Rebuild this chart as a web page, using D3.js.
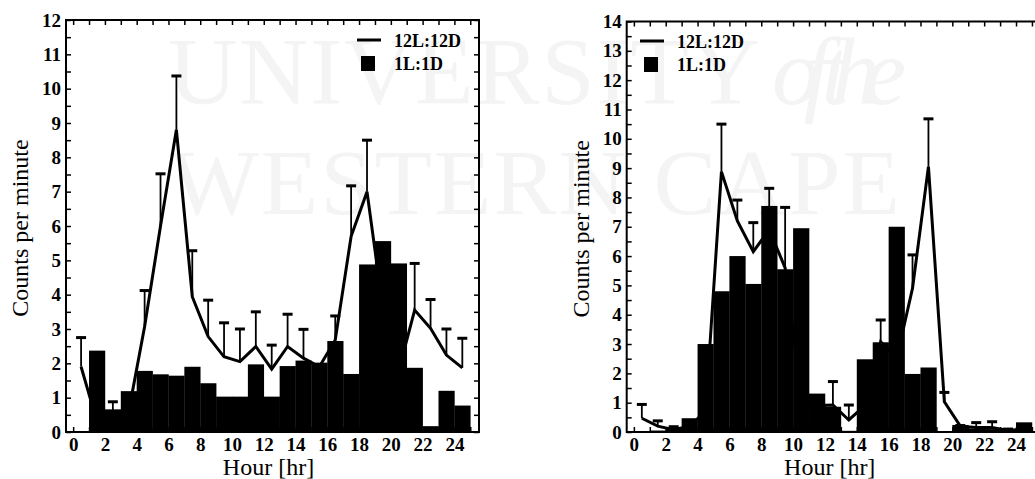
<!DOCTYPE html>
<html>
<head>
<meta charset="utf-8">
<script src="https://cdn.jsdelivr.net/npm/d3@7"></script>
<style>
  body { margin: 0; background: #fff; }
  svg { display: block; }
</style>
</head>
<body>
<div id="chart"></div>
<script>
// hours for the bars (each bar spans h..h+1) and for the line points (at h+0.5)
var barHours = [1, 2, 3, 4, 5, 6, 7, 8, 9, 10, 11, 12, 13, 14, 15, 16, 17, 18, 19, 20, 21, 22, 23, 24];
var lineHours = [0, 1, 2, 3, 4, 5, 6, 7, 8, 9, 10, 11, 12, 13, 14, 15, 16, 17, 18, 19, 20, 21, 22, 23, 24];
var xTickLabels = [0, 2, 4, 6, 8, 10, 12, 14, 16, 18, 20, 22, 24];

// left panel
var leftBars = [2.37, 0.66, 1.19, 1.78, 1.68, 1.64, 1.90, 1.42, 1.03, 1.03, 1.97, 1.03,
  1.92, 2.08, 2.02, 2.65, 1.69, 4.88, 5.56, 4.91, 1.87, 0.17, 1.20, 0.77];
var leftLine = [1.9, 0.3, 0.6, 0.6, 3.07, 6.0, 8.8, 3.94, 2.78, 2.19, 2.05, 2.49, 1.83,
  2.49, 2.15, 1.9, 2.68, 5.7, 7.0, 3.6, 1.8, 3.55, 3.02, 2.24, 1.87];
var leftErr = [2.75, 0.5, 0.88, 0.9, 4.12, 7.52, 10.37, 5.28, 3.84, 3.18, 3.0, 3.5, 2.53,
  3.43, 2.99, 1.95, 3.38, 7.17, 8.5, 4.5, 2.6, 4.91, 3.86, 3.0, 2.73];
var leftYTicks = [0, 1, 2, 3, 4, 5, 6, 7, 8, 9, 10, 11, 12];

// right panel
var rightBars = [0.05, 0.15, 0.47, 3.0, 4.8, 6.0, 5.05, 7.71, 5.55, 6.95, 1.31, 0.86,
  0.04, 2.48, 3.06, 7.0, 1.98, 2.2, 0, 0.24, 0.12, 0.1, 0.09, 0.33];
var rightLine = [0.47, 0.2, 0.08, 0.2, 0.7, 8.88, 7.2, 6.15, 6.9, 5.6, 1.2, 0.9, 0.92,
  0.41, 0.9, 3.08, 2.5, 4.9, 9.05, 1.03, 0.2, 0.15, 0.15, 0.05, 0.1];
var rightErr = [0.94, 0.38, 0.18, 0.3, 1.0, 10.5, 7.91, 7.14, 8.31, 7.66, 1.5, 1.1, 1.72,
  0.92, 1.2, 3.82, 3.0, 6.04, 10.68, 1.35, 0.22, 0.32, 0.35, 0.1, 0.2];
var rightYTicks = [0, 1, 2, 3, 4, 5, 6, 7, 8, 9, 10, 11, 12, 13, 14];

var seriesNames = ["12L:12D", "1L:1D"];

var svgWidth = 1035;
var svgHeight = 479;
var serif = "'Liberation Serif', 'DejaVu Serif', serif";

var svg = d3.select("#chart")
  .append("svg")
  .attr("width", svgWidth)
  .attr("height", svgHeight);

// faint watermark behind everything
var mark = svg.append("g").attr("fill", "#f4f4f4").attr("font-family", serif);
mark.append("text").attr("x", 168).attr("y", 104).attr("font-size", 96)
  .attr("textLength", 592).attr("lengthAdjust", "spacing").text("UNIVERSITY");
mark.append("text").attr("x", 772).attr("y", 104).attr("font-size", 96)
  .attr("font-style", "italic").attr("textLength", 134).attr("lengthAdjust", "spacing").text("of the");
mark.append("text").attr("x", 170).attr("y", 214).attr("font-size", 94)
  .attr("textLength", 730).attr("lengthAdjust", "spacing").text("WESTERN CAPE");

function drawPanel(p) {
  var x = d3.scaleLinear().domain([-0.45, 25.55]).range([p.left, p.right]);
  var y = d3.scaleLinear().domain([0, p.yMax]).range([p.bottom, p.top]);

  var g = svg.append("g");

  // line with error bars (sits behind the bars)
  var pts = lineHours.map(function(h, i) {
    return { h: h, v: p.line[i], e: p.err[i] };
  });

  var errs = g.append("g").attr("stroke", "#000");
  errs.selectAll("line.stem")
    .data(pts)
    .enter()
    .append("line")
    .attr("class", "stem")
    .attr("x1", d => x(d.h + 0.5))
    .attr("x2", d => x(d.h + 0.5))
    .attr("y1", d => y(d.v))
    .attr("y2", d => y(d.e))
    .attr("stroke-width", 1.8);
  errs.selectAll("line.cap")
    .data(pts)
    .enter()
    .append("line")
    .attr("class", "cap")
    .attr("x1", d => x(d.h + 0.5) - 5)
    .attr("x2", d => x(d.h + 0.5) + 5)
    .attr("y1", d => y(d.e))
    .attr("y2", d => y(d.e))
    .attr("stroke-width", 3);

  g.append("path")
    .datum(pts)
    .attr("fill", "none")
    .attr("stroke", "#000")
    .attr("stroke-width", 3)
    .attr("stroke-linejoin", "miter")
    .attr("d", d3.line().x(d => x(d.h + 0.5)).y(d => y(d.v)));

  // bars
  g.selectAll("rect.bar")
    .data(barHours)
    .enter()
    .append("rect")
    .attr("class", "bar")
    .attr("x", d => x(d))
    .attr("width", d => x(d + 1) - x(d) + 0.3)
    .attr("y", (d, i) => y(p.bars[i]))
    .attr("height", (d, i) => y(0) - y(p.bars[i]))
    .attr("fill", "#000");

  // frame
  g.append("rect")
    .attr("x", p.left)
    .attr("y", p.top)
    .attr("width", p.right - p.left)
    .attr("height", p.bottom - p.top)
    .attr("fill", "none")
    .attr("stroke", "#000")
    .attr("stroke-width", 2);

  // inward ticks
  var hourTicks = d3.range(0, 26);
  var halfTicks = d3.range(0, p.yMax + 0.01, 0.5);

  g.append("g").attr("transform", `translate(0, ${p.top})`)
    .call(d3.axisTop(x).tickValues(hourTicks).tickSizeInner(-5).tickSizeOuter(0).tickFormat(""));
  g.append("g").attr("transform", `translate(0, ${p.bottom})`)
    .call(d3.axisBottom(x).tickValues(hourTicks).tickSizeInner(-5).tickSizeOuter(0).tickFormat(""));
  g.append("g").attr("transform", `translate(${p.left}, 0)`)
    .call(d3.axisLeft(y).tickValues(halfTicks).tickSizeInner(-5).tickSizeOuter(0).tickFormat(""));
  g.append("g").attr("transform", `translate(${p.right}, 0)`)
    .call(d3.axisRight(y).tickValues(halfTicks).tickSizeInner(-5).tickSizeOuter(0).tickFormat(""));

  // tick labels
  var xLab = g.append("g").attr("transform", `translate(0, ${p.bottom})`)
    .call(d3.axisBottom(x).tickValues(xTickLabels).tickSize(0).tickPadding(6).tickFormat(d3.format("d")));
  var yLab = g.append("g").attr("transform", `translate(${p.left}, 0)`)
    .call(d3.axisLeft(y).tickValues(p.yTicks).tickSize(0).tickPadding(5).tickFormat(d3.format("d")));

  g.selectAll(".domain").remove();
  g.selectAll(".tick line").attr("stroke", "#000").attr("stroke-width", 1.5);
  [xLab, yLab].forEach(function(a) {
    a.selectAll("text")
      .attr("font-family", serif)
      .attr("font-weight", "bold")
      .attr("font-size", 19)
      .attr("fill", "#000");
  });

  // axis titles
  svg.append("text")
    .attr("transform", `translate(${p.left - 38}, ${(p.top + p.bottom) / 2 + 2}) rotate(-90)`)
    .attr("text-anchor", "middle")
    .attr("font-family", serif)
    .attr("font-size", 24)
    .text("Counts per minute");

  svg.append("text")
    .attr("x", x(12.3))
    .attr("y", 475)
    .attr("text-anchor", "middle")
    .attr("font-family", serif)
    .attr("font-size", 24)
    .text("Hour [hr]");

  // legend
  var lg = svg.append("g").attr("font-family", serif).attr("font-weight", "bold").attr("font-size", 18);
  lg.append("line")
    .attr("x1", p.legX).attr("x2", p.legX + 24)
    .attr("y1", p.legY).attr("y2", p.legY)
    .attr("stroke", "#000").attr("stroke-width", 3);
  lg.append("rect")
    .attr("x", p.legX + 4).attr("y", p.legY + 16)
    .attr("width", 14).attr("height", 15)
    .attr("fill", "#000");
  lg.append("text").attr("x", p.legX + 37).attr("y", p.legY + 7).text(seriesNames[0]);
  lg.append("text").attr("x", p.legX + 37).attr("y", p.legY + 30).text(seriesNames[1]);
}

drawPanel({
  left: 66, right: 479, top: 20, bottom: 432, yMax: 12,
  bars: leftBars, line: leftLine, err: leftErr, yTicks: leftYTicks,
  legX: 357, legY: 40
});

drawPanel({
  left: 626.7, right: 1040.7, top: 21.5, bottom: 432, yMax: 14,
  bars: rightBars, line: rightLine, err: rightErr, yTicks: rightYTicks,
  legX: 640, legY: 41
});
</script>
</body>
</html>
